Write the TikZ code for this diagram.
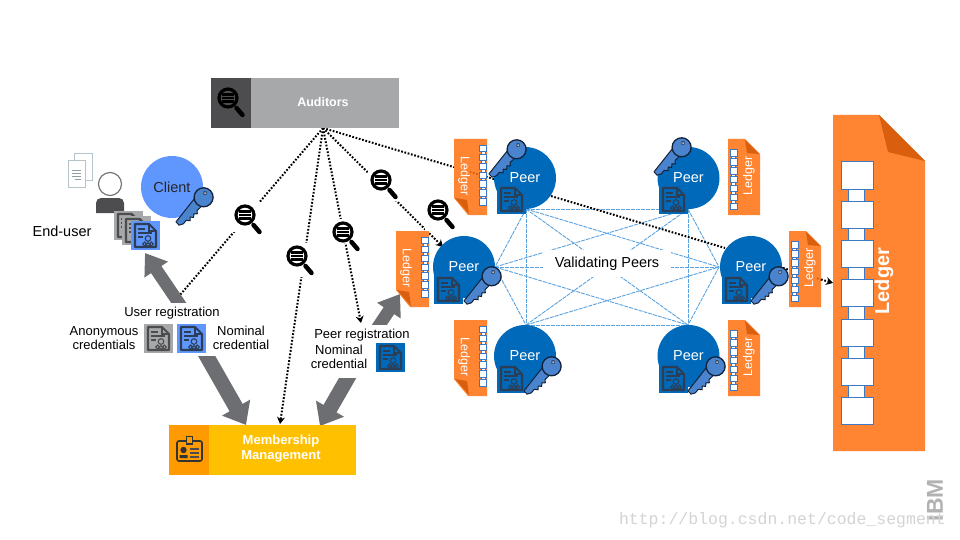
\documentclass[tikz,border=0pt]{standalone}
\usepackage{fontspec}
\setmainfont{Liberation Sans}
\newfontfamily\wmfont{Liberation Mono}
\usetikzlibrary{arrows.meta}
\definecolor{peerblue}{HTML}{0069B9}
\definecolor{clientblue}{HTML}{6097FF}
\definecolor{ledgerorange}{HTML}{FF8533}
\definecolor{folddark}{HTML}{D95F0E}
\definecolor{chainblue}{HTML}{3D78C4}
\definecolor{arrowgrey}{HTML}{6D6E71}
\definecolor{linkblue}{HTML}{5BA3E0}
\definecolor{keyblue}{HTML}{4A84CE}
\definecolor{keydark}{HTML}{14233A}
\definecolor{docdark}{HTML}{2C3E55}
\definecolor{audlight}{HTML}{A7A8AA}
\definecolor{auddark}{HTML}{4D4D4F}
\definecolor{memlight}{HTML}{FFC000}
\definecolor{memdark}{HTML}{FF9B00}
\definecolor{pagegrey}{HTML}{B5C4CC}
\newcommand{\fsz}[1]{\fontsize{#1}{#1}\selectfont}
\tikzset{
  x=1pt,y=-1pt,
  every node/.style={inner sep=0pt,outer sep=0pt},
  peernode/.style={circle,fill=peerblue,minimum size=62pt,text=white,font=\fsz{14.5}},
  lbl/.style={text=black,font=\fsz{13},align=center},
  dots/.style={draw=black,line width=2pt,dash pattern=on 1.7pt off 1.7pt},
  dotsarrow/.style={dots,-{Stealth[length=7pt,width=8pt]}},
  bigarrow/.style={draw=arrowgrey,line width=15pt,-{Triangle[length=20pt,width=31pt]}},
  slimarrow/.style={draw=arrowgrey,line width=12.5pt,-{Triangle[length=20pt,width=27pt]}},
  peerlink/.style={draw=linkblue,line width=0.9pt,dash pattern=on 4pt off 1pt},
  pics/cred/.style 2 args={code={
    \fill[#1] (0,0) rectangle (29,29);
    \draw[#2,line width=2.1pt,line join=round] (4,3) -- (18,3) -- (25,10) -- (25,26) -- (4,26) -- cycle;
    \draw[#2,line width=1.4pt] (18,3) -- (18,10) -- (25,10);
    \draw[#2,line width=1.2pt] (7,8) -- (14,8) (7,12) -- (21,12) (7,16) -- (12,16);
    \draw[#2,line width=1.1pt] (17,17.5) circle (2.8) (13.6,23) circle (1.9) (17,23.6) circle (1.9) (20.4,23) circle (1.9);
  }},
  pics/keyicon/.style={code={
    \filldraw[fill=keyblue,draw=keydark,line width=1pt,line join=round]
      (0,-1.5) -- (30,-5.5) -- (30,5) -- (23,5) -- (21,7.5) -- (18.5,5) -- (16,7.5) -- (13.5,5) -- (11,7.5) -- (8.5,4.5) -- (4,5) -- (0,3) -- cycle;
    \filldraw[fill=keyblue,draw=keydark,line width=1.3pt] (37,0) circle (9.5);
    \filldraw[fill=white,draw=keydark,line width=0.8pt] (41,-2) circle (1.7);
  }},
  pics/mag/.style={code={
    \draw[black,line width=4.5pt,line cap=round] (8.5,10) -- (14.5,17);
    \filldraw[fill=#1,draw=black,line width=3.2pt] (0,0) circle (9);
    \foreach \q in {-3.6,0,3.6}{
      \fill[black] (-5.6,\q-1.3) rectangle (-3.4,\q+1.3);
      \fill[black] (-2.6,\q-1.3) rectangle (5.6,\q+1.3);
    }
  }},
  pics/ledgerL/.style={code={
    \fill[ledgerorange] (0,0) -- (33,0) -- (33,76) -- (14,76) -- (0,59) -- cycle;
    \fill[folddark] (1,59) -- (13,61) -- (15,75) -- cycle;
    \foreach \k in {0,...,5}{
      \filldraw[fill=white,draw=chainblue,line width=0.8pt] (27,{9.5+8.9*\k}) rectangle (31,{9.5+8.9*(\k+1)});
    }
    \foreach \k in {0,...,6}{
      \filldraw[fill=white,draw=chainblue,line width=0.9pt] (25.5,{9.5+8.9*\k-3.2}) rectangle (32.5,{9.5+8.9*\k+3.2});
    }
    \node[text=white,font=\fsz{12.5},rotate=-90] (-label) at (10,37) {Ledger};
  }},
  pics/ledgerR/.style={code={
    \fill[ledgerorange] (0,0) -- (17,0) -- (32,15) -- (32,76) -- (0,76) -- cycle;
    \fill[folddark] (17,1) -- (19,14) -- (31,15) -- cycle;
    \foreach \k in {0,...,5}{
      \filldraw[fill=white,draw=chainblue,line width=0.8pt] (3.5,{14+8.9*\k}) rectangle (7.5,{14+8.9*(\k+1)});
    }
    \foreach \k in {0,...,6}{
      \filldraw[fill=white,draw=chainblue,line width=0.9pt] (2,{14+8.9*\k-3.2}) rectangle (9,{14+8.9*\k+3.2});
    }
    \node[text=white,font=\fsz{12.5},rotate=90] (-label) at (21,37) {Ledger};
  }},
}
\begin{document}
\begin{tikzpicture}
\useasboundingbox (0,0) rectangle (960,540);
\fill[white] (0,0) rectangle (960,540);

% anchor points
\coordinate (hub) at (323,128);
\coordinate (tUser) at (174,302);
\coordinate (tMem) at (280,424);
\coordinate (tPeerReg) at (361,323);
\coordinate (tPeerW) at (443,247);
\coordinate (tPeerE) at (725,248);
\coordinate (lA) at (526,209);
\coordinate (lB) at (495,267);
\coordinate (lC) at (526,325);
\coordinate (lD) at (688,209);
\coordinate (lE) at (719,267);
\coordinate (lF) at (688,325);

% peer mesh
\foreach \a/\b in {lA/lB,lA/lC,lA/lD,lA/lE,lA/lF,lB/lC,lB/lD,lB/lE,lB/lF,lC/lD,lC/lE,lC/lF,lD/lE,lD/lF,lE/lF}{
  \draw[peerlink] (\a) -- (\b);
}
\node[lbl,fill=white,font=\fsz{14.5},minimum width=128pt,minimum height=27pt] (validating) at (607,263.5) {Validating Peers};

% dotted audit links
\draw[dotsarrow] (hub) -- (tUser);
\draw[dotsarrow] (hub) -- (tMem);
\draw[dotsarrow] (hub) -- (tPeerReg);
\draw[dotsarrow] (hub) -- (tPeerW);
\draw[dots] (hub) -- (tPeerE);

% thick arrows, their tails cut level
\coordinate (a1s) at (189,318); \coordinate (a1e) at (145,253);
\coordinate (a2s) at (197,339); \coordinate (a2e) at (246,425);
\coordinate (a3s) at (358,360); \coordinate (a3e) at (320,426);
\coordinate (a4s) at (366,345); \coordinate (a4e) at (400,294);
\begin{scope}
\clip (100,240) rectangle (220,302);
\draw[slimarrow] (a1s) -- (a1e);
\end{scope}
\begin{scope}
\clip (180,356) rectangle (280,440);
\draw[bigarrow] (a2s) -- (a2e);
\end{scope}
\begin{scope}
\clip (300,378) rectangle (380,440);
\draw[bigarrow] (a3s) -- (a3e);
\end{scope}
\begin{scope}
\clip (350,280) rectangle (420,324);
\draw[slimarrow] (a4s) -- (a4e);
\end{scope}

% top boxes
\fill[audlight] (251,78) rectangle (399,128);
\fill[auddark] (211,78) rectangle (251,128);
\node[text=white,font=\bfseries\fsz{12.5}] (auditors) at (323,102) {Auditors};
\pic at (228,98) {mag=auddark};
\fill[memlight] (209,425) rectangle (356,475);
\fill[memdark] (169,425) rectangle (209,475);
\node[text=white,font=\bfseries\fsz{13},align=center] (membership) at (281,449) {Membership\\[2pt]Management};
% badge icon
\filldraw[fill=memdark,draw=black!80,line width=1.6pt,rounded corners=2pt] (177,441) rectangle (202,461);
\filldraw[fill=memdark,draw=black!80,line width=1.2pt] (186.5,436.5) rectangle (192.5,444);
\fill[black!80] (183.5,450) circle (3.2) (179.5,458) rectangle (187.5,455);
\draw[black!70,line width=1.2pt] (190,449) -- (199,449) (190,453) -- (199,453) (190,457) -- (199,457);

% magnifiers with their white gaps
\foreach \mx/\my/\gap in {245/215/17,297/256/21,343/232/11,381/180/21,438/210/21}{
  \fill[white] (\mx-13,\my-13) rectangle (\mx+18,\my+\gap);
  \pic at (\mx,\my) {mag=white};
}

% peers
\node[peernode] (peerA) at (525,178) {Peer};
\node[peernode] (peerB) at (464,267) {Peer};
\node[peernode] (peerC) at (525,356) {Peer};
\node[peernode] (peerD) at (688.5,178) {Peer};
\node[peernode] (peerE) at (751,267) {Peer};
\node[peernode] (peerF) at (688.5,356) {Peer};

% small ledgers
\pic (ledA) at (454,139) {ledgerL};
\pic (ledB) at (396,231) {ledgerL};
\pic (ledC) at (454,320) {ledgerL};
\pic (ledD) at (728,139) {ledgerR};
\pic (ledE) at (789,231) {ledgerR};
\pic (ledF) at (728,320) {ledgerR};

% dots seen through the ledger
\begin{scope}
\clip (470,139) rectangle (479,215);
\draw[dots,draw=folddark] (hub) -- (tPeerE);
\end{scope}

% big ledger
\fill[ledgerorange] (833,115) -- (879,115) -- (925,161) -- (925,451) -- (833,451) -- cycle;
\fill[folddark] (879,115) -- (888,152) -- (925,161) -- cycle;
\foreach \k in {0,...,5}{
  \filldraw[fill=white,draw=chainblue,line width=1pt] (848.5,{189+39.3*\k}) rectangle (864.5,{201.3+39.3*\k});
}
\foreach \k in {0,...,6}{
  \filldraw[fill=white,draw=chainblue,line width=1pt] (841,{162+39.3*\k}) rectangle (873,{189+39.3*\k});
}
\node[text=white,font=\bfseries\fsz{20},rotate=90] (bigledger) at (884,281) {Ledger};

% link to the big ledger
\coordinate (e0) at (783,268);
\coordinate (e1) at (789,269.8);
\coordinate (e1b) at (817,278.3);
\coordinate (e2) at (821,279.5);
\coordinate (e3) at (833,283);
\draw[dots] (e0) -- (e1);
\draw[dots,draw=folddark] (e1b) -- (e2);
\draw[dotsarrow] (e2) -- (e3);

% credentials on peers
\pic at (497,185) {cred={peerblue}{docdark}};
\pic at (434,275) {cred={peerblue}{docdark}};
\pic at (497,364) {cred={peerblue}{docdark}};
\pic at (659,185) {cred={peerblue}{docdark}};
\pic at (722,275) {cred={peerblue}{docdark}};
\pic at (659,364) {cred={peerblue}{docdark}};

% keys
\pic[rotate=44] at (490,175) {keyicon};
\pic[rotate=44] at (465,302) {keyicon};
\pic[rotate=44] at (525,392) {keyicon};
\pic[rotate=44] at (655,173) {keyicon};
\pic[rotate=44] at (752,302) {keyicon};
\pic[rotate=44] at (689,392) {keyicon};

% client side
\node[circle,fill=clientblue,minimum size=62pt,text=black!85,font=\fsz{14.5}] (client) at (172,187) {Client};
\pic[rotate=44] at (177,223) {keyicon};
% documents
\filldraw[fill=white,draw=pagegrey,line width=1pt] (74,154) rectangle (92,181);
\filldraw[fill=white,draw=pagegrey,line width=1pt] (68,161) rectangle (85,187);
\draw[pagegrey!80!black,line width=0.8pt] (72,170) -- (81,170) (72,173) -- (81,173) (72,176) -- (81,176) (75,179) -- (81,179);
% person
\draw[arrowgrey,line width=1.1pt] (110,184) circle (11.5);
\fill[auddark] (96,213) -- (96,203) arc[start angle=180,end angle=270,radius=5] -- (119,198) arc[start angle=270,end angle=360,radius=5] -- (124,213) -- cycle;
\node[lbl,font=\fsz{14.5}] (enduser) at (62,231) {End-user};
% credential stack
\pic at (114,211) {cred={audlight}{auddark}};
\pic at (122,216) {cred={audlight}{auddark}};
\pic at (131,221) {cred={clientblue}{docdark}};

% registration labels
\node[lbl] (userreg) at (172,313) {User registration};
\node[lbl] (anon) at (104,338) {Anonymous\\[1.5pt]credentials};
\pic at (144,324) {cred={audlight}{auddark}};
\pic at (177,324) {cred={clientblue}{docdark}};
\node[lbl] (nomA) at (241,338) {Nominal\\[1.5pt]credential};
\node[lbl] (peerreg) at (362,335) {Peer registration};
\node[lbl] (nomB) at (339,357) {Nominal\\[1.5pt]credential};
\pic at (376,343) {cred={peerblue}{docdark}};

% marks
\node[text=black!30,font=\bfseries\fsz{23},rotate=90] (ibm) at (935,500) {IBM};
\node[anchor=west,text=black!17,font=\wmfont\fsz{16.5}] (watermark) at (619,520) {http://blog.csdn.net/code\_segment};
\end{tikzpicture}
\end{document}
